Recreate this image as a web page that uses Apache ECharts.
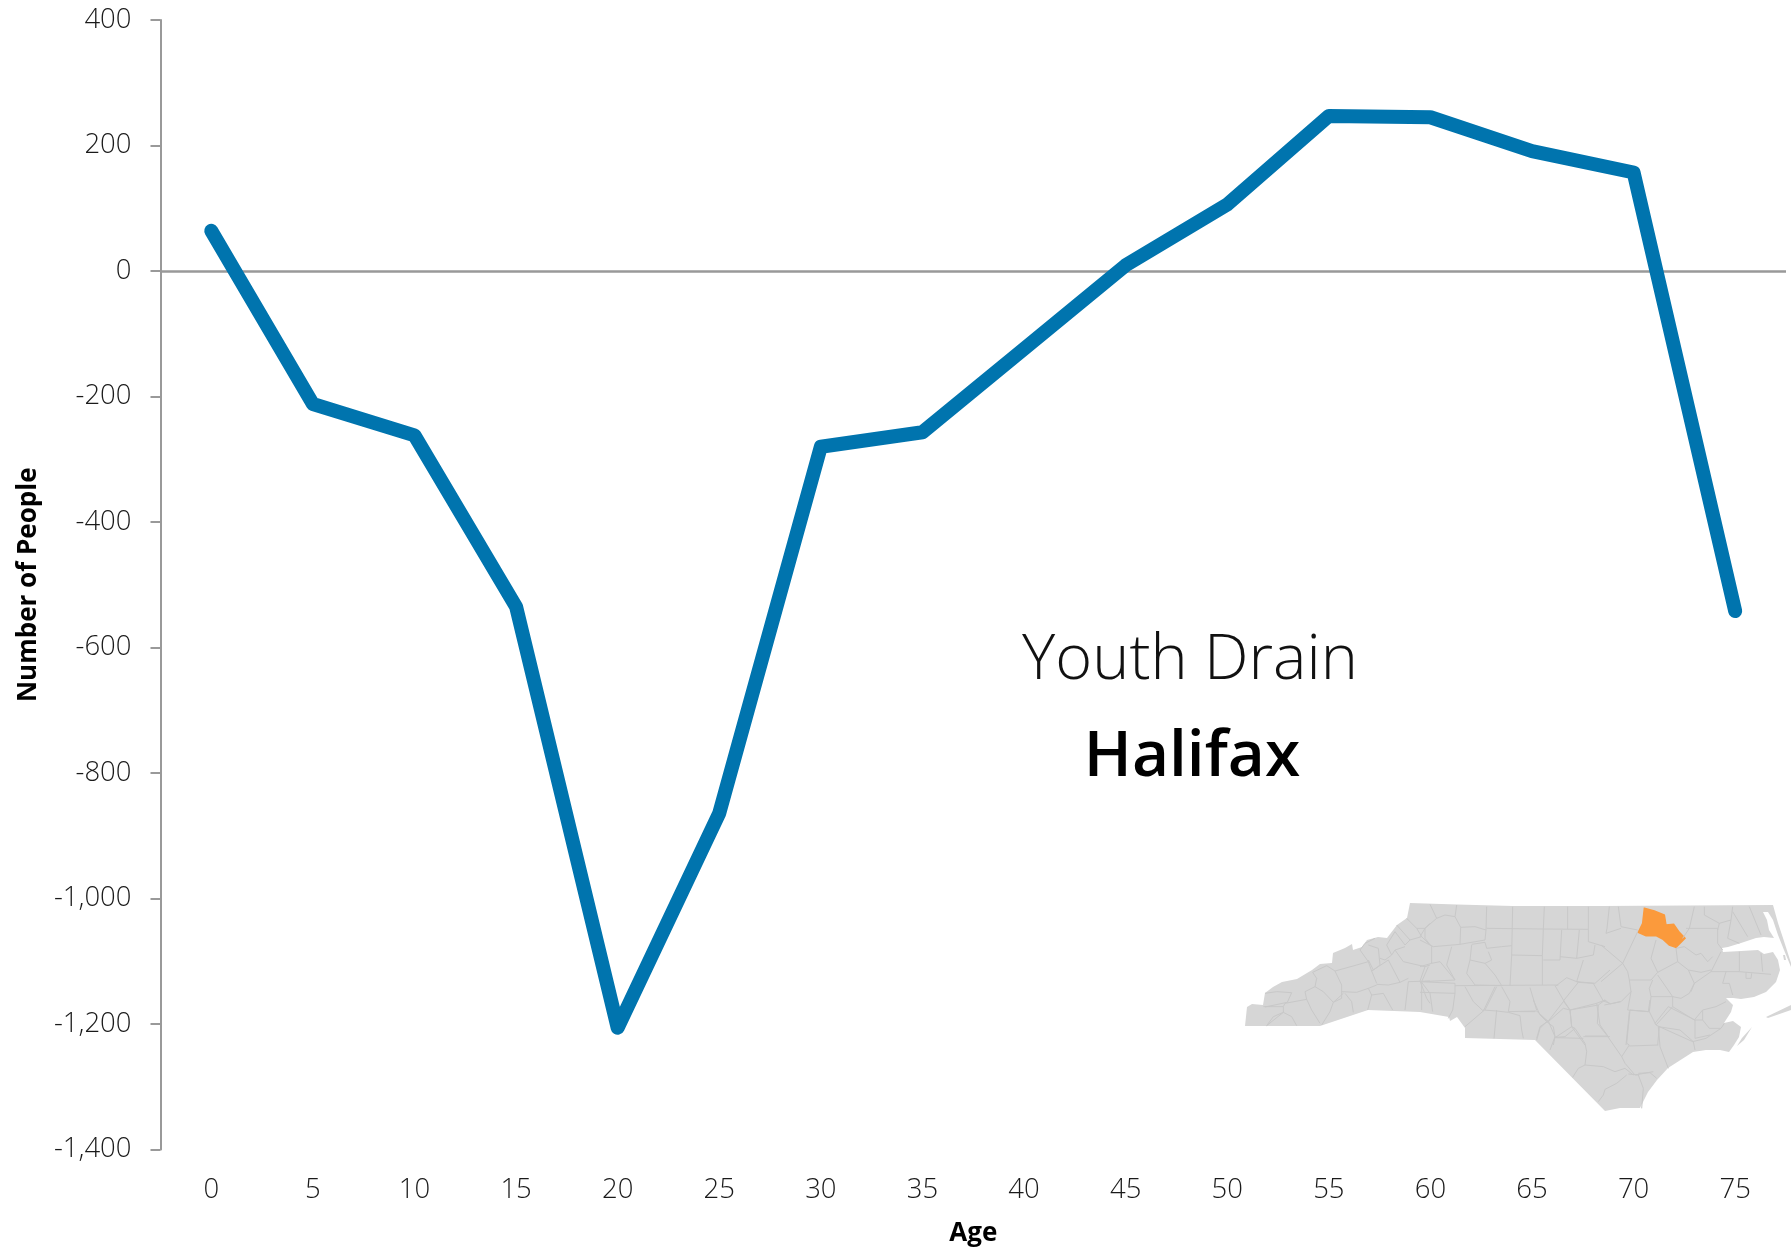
<!DOCTYPE html>
<html>
<head>
<meta charset="utf-8">
<title>Youth Drain - Halifax</title>
<style>html,body{margin:0;padding:0;background:#fff}#chart{width:1791px;height:1249px}</style>
<script src="https://cdn.jsdelivr.net/npm/echarts@6/dist/echarts.min.js"></script>
</head>
<body>
<div id="chart"></div>
<script>
const ages = ['0','5','10','15','20','25','30','35','40','45','50','55','60','65','70','75'];
const netMigration = [64,-212,-262,-535,-1206,-864,-280,-257,-124,9,106,247,245,191,157,-542];
const titleLight = 'Youth Drain';
const titleBold = 'Halifax';
const xName = 'Age';
const yName = 'Number of People';

// Inset map of North Carolina, traced as page pixels
const stateOutline = [[1410,903],[1457,904.5],[1513,906],[1601,906],[1773,905],[1763,912],[1767,920],[1769,930],[1774,938],[1764,937],[1756,938],[1741,943],[1728,947],[1722,948],[1723,952],[1741,951],[1758,950],[1764,954],[1773,952],[1778,960],[1780,970],[1776,982],[1766,992],[1754,997],[1741,999],[1733,998],[1726,998],[1733,1005],[1731,1012],[1724,1023],[1733,1021],[1741,1027],[1739,1037],[1734,1045],[1729,1052],[1720,1050],[1706,1050],[1693,1052],[1668,1068],[1657,1080],[1648,1092],[1640,1108],[1620,1108],[1605,1111],[1535,1040],[1465,1038],[1465,1028],[1457,1017],[1450,1021],[1449,1017],[1420,1012],[1368,1010],[1320,1026],[1245,1026],[1247,1007],[1252,1004],[1263,1005],[1265,993],[1273,987],[1282,982],[1297,979],[1312,970],[1320,964],[1332,963],[1333,953],[1345,948],[1352,944],[1353,950],[1362,947],[1367,940],[1378,937],[1387,938],[1397,925],[1407,918]];
const barrierNorth = [[1773,905],[1778,923],[1783,938],[1791,963],[1791,967],[1784,950],[1778,935],[1773,920],[1768,912],[1763,912]];
const barrierHatteras = [[1766,1017],[1791,1005],[1791,1010],[1768,1018]];
const barrierLookout = [[1752,1027],[1744,1040],[1737,1046],[1742,1038]];
const islet = [[1783,955],[1785,955],[1786,960],[1784,960]];
const halifaxCrop = [130,40,160,48,190,60,195,90,218,88,235,112,252,130,225,157,205,150,185,132,165,122,135,122,112,112,125,85];
const linesA = [
[75,295,110,290,155,293,142,322,75,336],[70,335,130,335,135,325,200,313],[130,335,130,352,80,392],[80,392,100,365,130,352,155,365,170,392],
[200,313,195,290,225,275,250,290,280,322,270,350,245,390],[200,313,215,345,240,385],[225,275,230,250,218,232],[218,232,260,212,285,228,305,270,305,310,280,322],
[305,290,350,292,385,280,410,270],[285,228,350,210,385,200,395,228,410,265],[315,295,335,320,340,352],[280,322,310,295],[385,280,395,300,383,345],[395,300,430,295,458,345],
[410,268,445,270,480,262,505,250],[505,260,495,345],[505,260,570,258],[395,228,445,195,480,262],[385,200,360,165,375,145,405,130],[385,195,400,225,420,210,415,160,385,150],
[420,190,435,195,455,180,440,150,465,110,495,150],[455,180,465,165,495,155],[465,165,490,200,555,215,570,210],[555,215,540,258,560,310,570,325],[495,150,510,135,545,125,570,150],
[510,135,470,90],[545,125,530,100,500,70],[530,100,555,100,570,85],[545,260,545,345]];
const linesB = [
[30,28,50,70,15,100,0,125],[110,30,105,65,75,60,50,70],[105,65,122,97,120,148,40,155,0,135],[15,100,15,130,35,155],[122,97,165,95,198,105,200,35],[200,100,370,102,505,103],
[278,35,275,180,367,182,370,102],[373,35,370,102],[443,35,443,103],[505,35,505,140,555,155],[198,105,195,135,120,148],[155,148,195,142,200,160,245,155,275,152],
[155,150,150,195,140,235,165,270,245,272],[95,155,80,210,105,255],[35,155,35,205,0,215],[35,205,60,200,105,255,5,260,25,215],[150,195,195,205,215,195,205,170],[195,205,225,240,245,272],
[275,180,270,272],[367,182,367,270],[370,195,420,195,425,105],[420,185,470,190,478,105],[470,190,520,180,525,150],[490,195,470,260,525,265,570,225],[0,260,105,265,105,295,0,292],
[5,262,30,295,38,350],[105,295,98,345,85,370],[105,272,415,270],[135,275,160,320,190,348,225,275],[190,348,135,395],[230,275,195,345],[245,275,270,320,265,350],[230,345,222,430],
[190,345,230,348,265,352,300,362,305,405,310,430],[265,350,350,348,385,380],[330,278,350,345],[405,272,430,315],[440,248,405,275],[440,248,475,262],[475,262,430,318],
[430,318,450,345,530,325,555,315],[475,262,520,265,550,318,570,325],[430,320,385,378,360,395,350,430],[385,378,405,425,400,450],[450,345,455,395,405,428,490,430],[455,395,495,450],
[490,425,570,425],[530,325,540,390,565,425]];
const linesC = [
[25,35,18,100,15,115],[52,35,60,95,110,105],[110,110,65,205,0,150],[15,115,60,100],[65,205,0,260],[65,205,80,230,85,255,150,255,170,232,150,190,165,135],
[225,160,230,200,170,232],[230,200,262,225,280,265,265,295,240,310,215,305,170,240],[145,280,155,255],[85,255,90,290,60,320,10,330],[90,290,80,345,145,350],
[150,305,215,305],[150,305,145,350,165,390,215,335,215,305],[145,280,150,305],[215,335,280,375,305,345,345,335,375,320],[280,265,330,230,415,230,510,238],
[415,170,415,230],[480,175,485,230],[435,232,435,250,450,250,452,235],[330,230,360,170],[262,225,300,232,330,225],[225,160,250,155,285,180,300,175,320,200,335,185],
[255,100,350,100,350,145,365,165],[280,35,265,100,245,130],[310,35,310,60,355,85,390,75,395,35],[355,85,350,105],[390,75,380,130,415,145],[395,50,440,125],[445,35,480,120],
[375,230,365,265,385,265,395,300],[280,265,270,290],[305,345,305,375,325,400,360,400,370,385],[165,390,175,395,275,440],[85,350,75,450],[360,400,315,430,275,440],[175,395,170,450],[280,375,305,375]];
const linesD = [
[40,0,60,45,85,65,130,25,150,30,155,80,165,85],[0,35,45,35],[60,45,80,65,60,85,50,120],[80,65,100,80,105,110,90,150],[105,112,135,110,165,85,195,130,200,155,195,195],
[130,0,150,30,235,15,255,0],[235,15,232,70,260,105,305,170,328,135,320,130,330,30],[195,108,260,108],[328,138,415,135],[195,195,250,200,285,215,315,205,340,225],
[305,170,315,190,345,225,400,215],[195,195,175,205,158,232],[320,225,290,250,255,268,250,285,235,305],[325,222,355,225,370,265,365,325],[355,220,390,218,410,235],
[415,80,420,140,445,205],[415,80,480,90,520,125,525,150],[405,70,445,20,525,60,525,115,570,105],[330,30,385,35,390,0],[255,0,270,12,300,5]];

const cropOrigins = {A:[1240,895],B:[1420,895],C:[1601,895],D:[1520,1000]};
const toGeo = ([x,y]) => [x,-y];
const cropPts = (flat,o) => {const r=[];for(let i=0;i<flat.length;i+=2)r.push([o[0]+flat[i]/3,o[1]+flat[i+1]/3]);return r;};
const closeRing = pts => pts.map(toGeo).concat([toGeo(pts[0])]);
const ncGeo = {type:'FeatureCollection',features:[
  {type:'Feature',properties:{name:'North Carolina'},geometry:{type:'MultiPolygon',coordinates:[stateOutline,barrierNorth,barrierHatteras,barrierLookout,islet].map(p=>[closeRing(p)])}},
  {type:'Feature',properties:{name:'Halifax'},geometry:{type:'Polygon',coordinates:[closeRing(cropPts(halifaxCrop,cropOrigins.C))]}}
]};
echarts.registerMap('nc',ncGeo);
const countyLines = [];
[[linesA,'A'],[linesB,'B'],[linesC,'C'],[linesD,'D']].forEach(([set,k])=>set.forEach(l=>countyLines.push({coords:cropPts(l,cropOrigins[k]).map(toGeo)})));

const FONT = '"Open Sans"';
const chart = echarts.init(document.getElementById('chart'),null,{renderer:'canvas'});
chart.setOption({
  animation:false,
  backgroundColor:'#fff',
  grid:{left:160.5,top:20,width:1625.5,height:1129.5,containLabel:false,outerBoundsMode:'none'},
  xAxis:{type:'category',data:ages,boundaryGap:true,
    axisLine:{show:false},axisTick:{show:false},
    axisLabel:{fontFamily:FONT,fontWeight:300,fontSize:27.5,color:'#1a1a1a',margin:27},
    name:xName,nameLocation:'middle',nameGap:71,
    nameTextStyle:{fontFamily:FONT,fontWeight:700,fontSize:26,color:'#000'}},
  yAxis:{type:'value',min:-1400,max:400,interval:200,
    axisLine:{show:true,lineStyle:{color:'#999',width:2}},
    axisTick:{show:true,length:10,lineStyle:{color:'#999',width:2}},
    splitLine:{show:false},
    axisLabel:{fontFamily:FONT,fontWeight:300,fontSize:27.5,color:'#1a1a1a',margin:29,padding:[2,0,0,0],
      formatter:v=>v.toLocaleString('en-US')},
    name:yName,nameLocation:'middle',nameGap:119,
    nameTextStyle:{fontFamily:FONT,fontWeight:700,fontSize:26,color:'#000'}},
  geo:{map:'nc',left:1245,top:903,width:546,height:208,aspectScale:1,silent:true,roam:false,
    label:{show:false},
    itemStyle:{areaColor:'#d6d6d6',borderWidth:0},
    regions:[{name:'Halifax',itemStyle:{areaColor:'#fb9a3c',borderColor:'#fb9a3c',borderWidth:1.5}}],
    emphasis:{disabled:true},select:{disabled:true}},
  series:[
    {type:'lines',coordinateSystem:'geo',polyline:true,silent:true,z:1,
     lineStyle:{color:'#c8c8c8',width:1,opacity:1},data:countyLines},
    {type:'line',data:netMigration,showSymbol:false,symbol:'none',smooth:false,z:5,silent:true,
     lineStyle:{color:'#0074ae',width:14,cap:'round',join:'round'},
     markLine:{silent:true,symbol:'none',z:1,label:{show:false},lineStyle:{color:'#999',width:2.5,type:'solid'},data:[{yAxis:0}]}}
  ],
  graphic:[
    {type:'text',silent:true,style:{x:1190,y:630,text:titleLight,textAlign:'center',
      fontFamily:FONT,fontWeight:300,fontSize:63,fill:'#111'}},
    {type:'text',silent:true,style:{x:1192,y:726,text:titleBold,textAlign:'center',
      fontFamily:FONT,fontWeight:600,fontSize:64,fill:'#000'}}
  ]
});
</script>
</body>
</html>
